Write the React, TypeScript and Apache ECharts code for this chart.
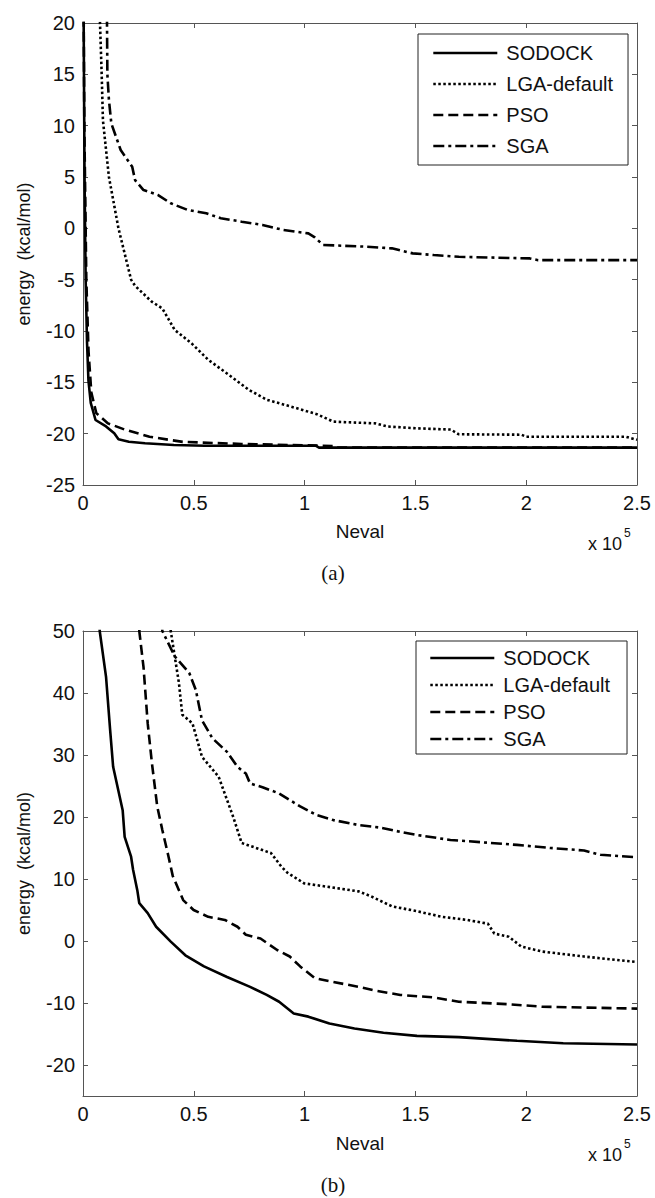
import React, { useEffect, useRef } from "react";
import * as echarts from "echarts";

// ---------- data (Neval, energy kcal/mol) ----------
const seriesNames = ["SODOCK", "LGA-default", "PSO", "SGA"];
const yTicksB = [-20, -10, 0, 10, 20, 30, 40, 50];

// Panel (a)
const sodockA: number[][] = [
  [100, 25], [300, 20], [700, 5], [1200, -5], [1800, -11], [2450, -14.8], [3500, -17],
  [5650, -18.67], [10400, -19.3], [14100, -19.97], [16000, -20.55], [20700, -20.78],
  [28000, -20.94], [41000, -21.1], [55000, -21.17], [105000, -21.17], [106500, -21.36],
  [250000, -21.36],
];
const lgaA: number[][] = [
  [7670, 25], [7670, 20], [8430, 15], [9000, 10.5], [11700, 5], [16000, 0], [21700, -5],
  [23500, -5.6], [31000, -7.14], [35800, -7.8], [41400, -9.9], [49000, -11.2],
  [56500, -12.8], [66000, -14.3], [75000, -15.75], [83000, -16.7], [94000, -17.37],
  [105500, -18.1], [113000, -18.83], [132000, -19.0], [137500, -19.3], [150700, -19.48],
  [166000, -19.6], [169600, -20.06], [197800, -20.1], [200000, -20.3], [245000, -20.3],
  [250000, -20.6],
];
const psoA: number[][] = [
  [200, 25], [600, 10], [1500, -5], [2500, -12], [3770, -16], [6000, -18], [11300, -19],
  [18800, -19.6], [30000, -20.3], [45000, -20.8], [71600, -21.0], [113000, -21.2],
  [114000, -21.36], [250000, -21.36],
];
const sgaA: number[][] = [
  [10830, 25], [10830, 20], [11000, 15], [11700, 12.5], [12800, 10.2], [17000, 7.63],
  [22200, 6.0], [23500, 4.7], [27300, 3.73], [33900, 3.24], [39600, 2.44], [47100, 1.8],
  [55600, 1.46], [62200, 0.98], [71600, 0.65], [81000, 0.33], [90400, -0.16],
  [101700, -0.49], [104600, -0.88], [108300, -1.62], [128100, -1.79], [139400, -1.95],
  [148800, -2.44], [158300, -2.6], [169600, -2.77], [201600, -2.93], [205400, -3.1],
  [250000, -3.1],
];

// Panel (b)
const sodockB: number[][] = [
  [7000, 55], [7540, 50], [10400, 42.6], [12250, 34], [13600, 28.1], [17900, 21.1],
  [18800, 16.8], [21700, 13.6], [22600, 11.5], [24500, 8.2], [25400, 6.1], [29200, 4.5],
  [33000, 2.3], [39600, -0.1], [46200, -2.3], [54600, -4.1], [65000, -5.8], [75400, -7.4],
  [82900, -8.7], [88500, -9.8], [95100, -11.7], [101700, -12.2], [111200, -13.3],
  [122500, -14.1], [135600, -14.8], [150700, -15.3], [169600, -15.5], [195900, -16.1],
  [216700, -16.5], [250000, -16.7],
];
const lgaB: number[][] = [
  [39000, 55], [39600, 50], [41400, 45.9], [43300, 41.6], [44800, 36.5], [49400, 35.1],
  [53700, 29.7], [61200, 26.5], [67800, 20.0], [71600, 15.8], [84800, 14.2], [89500, 12.0],
  [92300, 11.0], [99800, 9.3], [109300, 8.8], [124400, 8.0], [130000, 7.2], [139400, 5.6],
  [150700, 4.8], [162000, 3.9], [173300, 3.4], [182700, 2.8], [185600, 1.2], [192100, 0.7],
  [197800, -0.9], [207200, -1.7], [226000, -2.5], [250000, -3.4],
];
const psoB: number[][] = [
  [25000, 55], [25400, 50], [27300, 44.2], [29200, 35.1], [31100, 28.7], [33500, 21.7],
  [35800, 17.9], [38600, 13.6], [40500, 10.5], [45200, 6.6], [49900, 5.0], [56500, 3.9],
  [64000, 3.4], [69700, 2.3], [73500, 1.0], [80100, 0.4], [87600, -1.45], [93300, -2.5],
  [98000, -4.1], [104600, -6.0], [113000, -6.6], [124400, -7.4], [131900, -8.0],
  [143200, -8.7], [158300, -9.1], [169600, -9.8], [192100, -10.2], [207200, -10.6],
  [250000, -10.9],
];
const sgaB: number[][] = [
  [35000, 55], [35800, 50], [41400, 45.9], [48000, 43.2], [50900, 40.5], [53700, 35.6],
  [58400, 32.7], [65000, 30.5], [69700, 28.1], [73500, 27.0], [75400, 25.4], [81000, 24.8],
  [88500, 23.8], [98000, 21.7], [105500, 20.3], [113000, 19.5], [124400, 18.7],
  [133800, 18.3], [143200, 17.6], [150700, 17.1], [165800, 16.3], [180900, 15.9],
  [195900, 15.5], [211000, 15.0], [226100, 14.6], [233600, 13.9], [250000, 13.5],
];

const SANS = "Liberation Sans, Arial, sans-serif";
const SERIF = "Liberation Serif, Times New Roman, serif";
const INK = "#111";
const AXIS = "#555";

const dashTypes: Record<string, any> = {
  "SODOCK": "solid",
  "LGA-default": [2.5, 2.5],
  "PSO": [10, 5],
  "SGA": [11, 4, 3, 4],
};

function mkSeries(name: string, data: number[][], idx: number) {
  return {
    name,
    type: "line",
    xAxisIndex: idx,
    yAxisIndex: idx,
    data,
    symbol: "none",
    showSymbol: false,
    clip: true,
    silent: true,
    z: name === "SODOCK" ? 5 : 3,
    lineStyle: { color: "#000", width: 2.6, type: dashTypes[name] },
    itemStyle: { color: "#000" },
  };
}

function xAxisCfg(grid: number, pos: "bottom" | "top", nameGap: number) {
  const main = pos === "bottom";
  return {
    type: "value",
    gridIndex: grid,
    position: pos,
    min: 0,
    max: 250000,
    interval: 50000,
    axisLine: { show: true, onZero: false, lineStyle: { color: AXIS, width: 1 } },
    axisTick: { show: true, inside: true, length: 5, lineStyle: { color: AXIS, width: 1 } },
    axisLabel: {
      show: main,
      fontSize: 20,
      fontFamily: SANS,
      color: INK,
      margin: 8,
      showMinLabel: true,
      showMaxLabel: true,
      formatter: (v: number) => String(v / 100000),
    },
    splitLine: { show: false },
    name: main ? "Neval" : "",
    nameLocation: "middle",
    nameGap,
    nameTextStyle: { fontSize: 19, fontFamily: SANS, color: INK },
  };
}

function yAxisCfg(grid: number, pos: "left" | "right", min: number, max: number, custom?: number[]) {
  const main = pos === "left";
  const cfg: any = {
    type: "value",
    gridIndex: grid,
    position: pos,
    min,
    max,
    interval: 5,
    axisLine: { show: true, onZero: false, lineStyle: { color: AXIS, width: 1 } },
    axisTick: { show: true, inside: true, length: 5, lineStyle: { color: AXIS, width: 1 } },
    axisLabel: {
      show: main,
      fontSize: 20,
      fontFamily: SANS,
      color: INK,
      margin: 8,
      showMinLabel: true,
      showMaxLabel: true,
    },
    splitLine: { show: false },
    name: main ? "energy  (kcal/mol)" : "",
    nameLocation: "middle",
    nameGap: 50,
    nameTextStyle: { fontSize: 18, fontFamily: SANS, color: INK },
  };
  if (custom) {
    cfg.axisTick.customValues = custom;
    cfg.axisLabel.customValues = custom;
  }
  return cfg;
}

function legendCfg(left: number, top: number, padding: number[], itemGap: number) {
  return {
    left,
    top,
    orient: "vertical",
    data: seriesNames,
    itemWidth: 64,
    itemHeight: 14,
    itemGap,
    padding,
    borderColor: "#222",
    borderWidth: 1,
    backgroundColor: "#fff",
    selectedMode: false,
    itemStyle: { opacity: 0, borderWidth: 0 },
    lineStyle: { width: 2.6, opacity: 1 },
    textStyle: {
      fontSize: 20,
      fontFamily: SANS,
      color: INK,
      lineHeight: 22,
      padding: [0, 0, 0, 4],
    },
  };
}

export default function App() {
  const ref = useRef<HTMLDivElement>(null);
  useEffect(() => {
    if (!ref.current) return;
    const chart = echarts.init(ref.current, undefined, { renderer: "svg" });
    const option: any = {
      animation: false,
      backgroundColor: "#fff",
      grid: [
        { left: 83, top: 23, width: 554, height: 462, outerBoundsMode: "none", containLabel: false },
        { left: 83, top: 631, width: 554, height: 465, outerBoundsMode: "none", containLabel: false },
      ],
      xAxis: [
        xAxisCfg(0, "bottom", 37),
        xAxisCfg(0, "top", 0),
        xAxisCfg(1, "bottom", 38),
        xAxisCfg(1, "top", 0),
      ],
      yAxis: [
        yAxisCfg(0, "left", -25, 20),
        yAxisCfg(0, "right", -25, 20),
        yAxisCfg(1, "left", -25, 50, yTicksB),
        yAxisCfg(1, "right", -25, 50, yTicksB),
      ],
      legend: [
        legendCfg(418, 34, [8, 15, 8, 14], 9),
        legendCfg(416, 641, [6, 17, 4, 13], 5),
      ],
      series: [
        mkSeries("LGA-default", lgaA, 0),
        mkSeries("SGA", sgaA, 0),
        mkSeries("PSO", psoA, 0),
        mkSeries("SODOCK", sodockA, 0),
        mkSeries("LGA-default", lgaB, 2),
        mkSeries("SGA", sgaB, 2),
        mkSeries("PSO", psoB, 2),
        mkSeries("SODOCK", sodockB, 2),
      ],
      graphic: [
        { type: "text", left: 588, top: 535, style: { text: "x 10", fontSize: 18, fontFamily: SANS, fill: INK } },
        { type: "text", left: 624, top: 527, style: { text: "5", fontSize: 12, fontFamily: SANS, fill: INK } },
        { type: "text", left: 588, top: 1146, style: { text: "x 10", fontSize: 18, fontFamily: SANS, fill: INK } },
        { type: "text", left: 624, top: 1138, style: { text: "5", fontSize: 12, fontFamily: SANS, fill: INK } },
        { type: "text", x: 333, y: 573, style: { text: "(a)", fontSize: 21, fontFamily: SERIF, fill: INK, align: "center", verticalAlign: "middle" } },
        { type: "text", x: 333, y: 1185, style: { text: "(b)", fontSize: 21, fontFamily: SERIF, fill: INK, align: "center", verticalAlign: "middle" } },
      ],
    };
    chart.setOption(option);
    return () => chart.dispose();
  }, []);
  return (
    <div
      ref={ref}
      style={{ position: "absolute", left: 0, top: 0, width: 655, height: 1198, background: "#fff" }}
    />
  );
}
